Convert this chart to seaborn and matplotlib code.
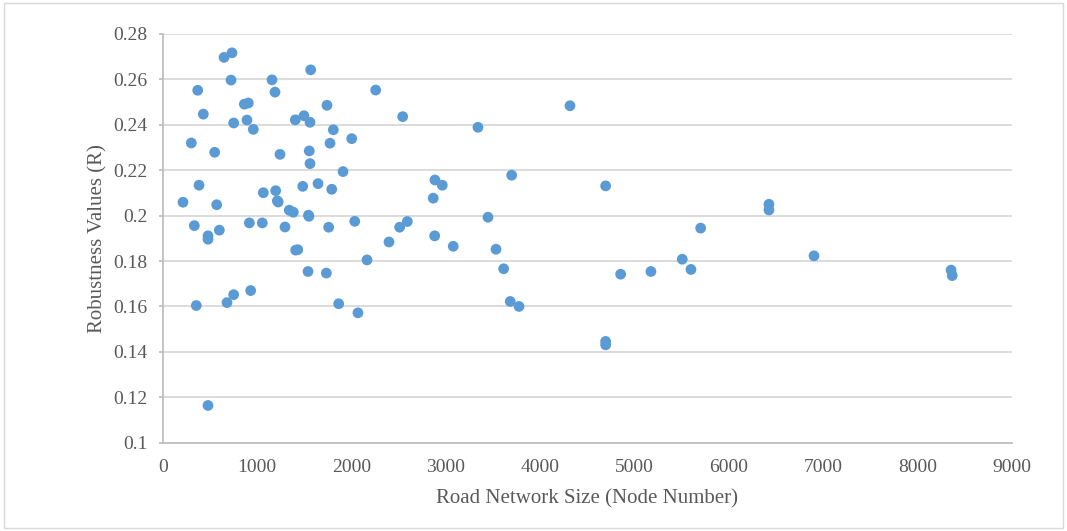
import matplotlib
matplotlib.use("Agg")
import matplotlib.pyplot as plt
import seaborn as sns
import pandas as pd
from matplotlib.patches import Rectangle

# Road network size (number of nodes) for each city network
node_number = [
    215, 303, 335, 371, 356, 385, 430, 480, 480, 480,
    551, 572, 600, 650, 681, 734, 724, 752, 752, 865,
    907, 893, 918, 932, 960, 1055, 1066, 1158, 1190, 1197,
    1215, 1224, 1243, 1296, 1341, 1384, 1405, 1409, 1431, 1484,
    1497, 1545, 1550, 1553, 1561, 1561, 1568, 1540, 1646, 1734,
    1741, 1759, 1773, 1791, 1808, 1865, 1911, 2003, 2035, 2069,
    2165, 2257, 2398, 2511, 2543, 2592, 2867, 2885, 2882, 2963,
    3079, 3341, 3447, 3532, 3613, 3683, 3698, 3776, 4316, 4694,
    4694, 4694, 4853, 5174, 5506, 5598, 5701, 6425, 6425, 6902,
    8355, 8367,
]

# Robustness value R of each network
robustness = [
    0.2059, 0.2320, 0.1956, 0.2552, 0.1604, 0.2134, 0.2447, 0.1911, 0.1896, 0.1164,
    0.2279, 0.2048, 0.1936, 0.2697, 0.1617, 0.2717, 0.2597, 0.1652, 0.2408, 0.2491,
    0.2496, 0.2421, 0.1968, 0.1670, 0.2380, 0.1968, 0.2101, 0.2598, 0.2544, 0.2110,
    0.2065, 0.2060, 0.2270, 0.1950, 0.2024, 0.2015, 0.2422, 0.1848, 0.1850, 0.2129,
    0.2440, 0.2002, 0.1997, 0.2285, 0.2411, 0.2229, 0.2642, 0.1754, 0.2141, 0.1747,
    0.2486, 0.1949, 0.2319, 0.2116, 0.2378, 0.1612, 0.2194, 0.2339, 0.1975, 0.1572,
    0.1805, 0.2553, 0.1884, 0.1949, 0.2436, 0.1974, 0.2077, 0.2157, 0.1911, 0.2134,
    0.1865, 0.2389, 0.1993, 0.1852, 0.1766, 0.1622, 0.2178, 0.1600, 0.2484, 0.2131,
    0.1446, 0.1431, 0.1742, 0.1754, 0.1808, 0.1763, 0.1945, 0.2050, 0.2025, 0.1823,
    0.1760, 0.1736,
]

x_ticks = [0, 1000, 2000, 3000, 4000, 5000, 6000, 7000, 8000, 9000]
y_ticks = [0.1, 0.12, 0.14, 0.16, 0.18, 0.2, 0.22, 0.24, 0.26, 0.28]
y_tick_labels = ["0.1", "0.12", "0.14", "0.16", "0.18", "0.2", "0.22", "0.24", "0.26", "0.28"]

df = pd.DataFrame({"nodes": node_number, "R": robustness})

sns.set_theme(style="white")
plt.rcParams["font.family"] = ["Liberation Serif", "DejaVu Serif"]

fig = plt.figure(figsize=(10.67, 5.31), dpi=100)
ax = fig.add_axes([0.1525, 0.1663, 0.9484 - 0.1525, 0.936 - 0.1663])

sns.scatterplot(data=df, x="nodes", y="R", ax=ax, color="#5B9BD5",
                s=60, edgecolor="none", zorder=3)

ax.set_xlim(0, 9000)
ax.set_ylim(0.1, 0.28)
ax.set_xticks(x_ticks)
ax.set_xticklabels([str(t) for t in x_ticks])
ax.set_yticks(y_ticks)
ax.set_yticklabels(y_tick_labels)

ax.grid(axis="y", color="#d9d9d9", linewidth=1.3, zorder=0)
ax.grid(axis="x", visible=False)

for side in ["top", "right"]:
    ax.spines[side].set_visible(False)
ax.spines["left"].set_color("#bfbfbf")
ax.spines["bottom"].set_color("#bfbfbf")
ax.spines["left"].set_linewidth(1.3)
ax.spines["bottom"].set_linewidth(1.3)

ax.tick_params(axis="y", which="major", left=True, length=3, width=1.3,
               color="#bfbfbf", labelsize=14, labelcolor="#595959", pad=8)
ax.tick_params(axis="x", which="major", bottom=False, labelsize=14,
               labelcolor="#595959", pad=6)

ax.set_xlabel("Road Network Size (Node Number)", fontsize=15, color="#595959", labelpad=9)
ax.set_ylabel("Robustness Values (R)", fontsize=15, color="#595959", labelpad=4)

# light frame around the whole chart
fig.patches.append(Rectangle((0.004, 0.006), 0.992, 0.988, transform=fig.transFigure,
                             fill=False, edgecolor="#d9d9d9", linewidth=1.0))

fig.savefig("out.png", dpi=100, facecolor="white")
